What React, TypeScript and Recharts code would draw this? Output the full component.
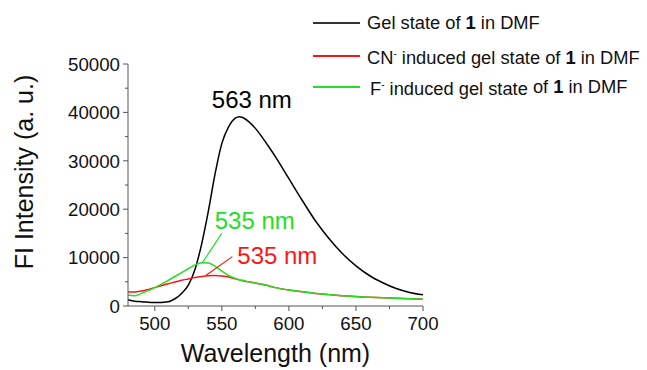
import { LineChart, Line, XAxis, YAxis, ReferenceDot, ReferenceLine } from 'recharts'

// emission spectra, wavelength in nm
const wavelengths = [480, 485, 490, 500, 510, 515, 520, 525, 530, 535, 540, 545, 550, 555, 560, 563, 565, 570, 575, 580, 585, 590, 600, 610, 620, 630, 640, 650, 660, 670, 680, 690, 700]
const gelState = [1300, 1000, 900, 700, 900, 1500, 2600, 4300, 7600, 12900, 19700, 27400, 33600, 37000, 38800, 39100, 39000, 38100, 36700, 34900, 32900, 30800, 26300, 21800, 17500, 13900, 10800, 8300, 6300, 4800, 3600, 2800, 2300]
const cnGel = [2900, 2900, 3100, 3800, 4600, 4950, 5300, 5600, 5900, 6100, 6250, 6300, 6200, 6000, 5600, 5400, 5250, 5000, 4750, 4500, 4150, 3800, 3300, 2950, 2600, 2350, 2100, 1950, 1800, 1700, 1600, 1500, 1400]
const fGel = [2260, 2100, 2600, 3800, 5300, 6100, 6900, 7700, 8500, 8950, 8900, 8200, 7200, 6300, 5700, 5400, 5300, 5000, 4750, 4500, 4150, 3800, 3300, 2950, 2600, 2350, 2100, 1950, 1800, 1700, 1600, 1500, 1400]

const yTicks = [0, 5000, 10000, 15000, 20000, 25000, 30000, 35000, 40000, 45000, 50000]
const xTicks = [500, 525, 550, 575, 600, 625, 650, 675, 700]

const BLACK = '#000000'
const RED = '#ff1414'
const GREEN = '#22e022'
const AXIS = '#555555'
const FONT = '"Liberation Sans", Arial, sans-serif'

const data = wavelengths.map((w, i) => ({ wavelength: w, gel: gelState[i], cn: cnGel[i], f: fGel[i] }))

const YTick = (props: any) => {
    const { x, y, payload } = props
    const major = payload.value % 10000 === 0
    const axisX = x + 8
    return (
        <g>
            <line x1={axisX - (major ? 5 : 3)} x2={axisX} y1={y} y2={y} stroke={AXIS} />
            {major && (
                <text x={x} y={y} dy="0.36em" textAnchor="end" fontSize={18.7} fill="#111" fontFamily={FONT}>
                    {payload.value}
                </text>
            )}
        </g>
    )
}

const XTick = (props: any) => {
    const { x, y, payload } = props
    const major = payload.value % 50 === 0
    const axisY = y - 11
    return (
        <g>
            <line x1={x} x2={x} y1={axisY} y2={axisY + (major ? 5 : 3)} stroke={AXIS} />
            {major && (
                <text x={x} y={y} dy="0.72em" textAnchor="middle" fontSize={18.7} fill="#111" fontFamily={FONT}>
                    {payload.value}
                </text>
            )}
        </g>
    )
}

const PeakLabel = (props: any) => {
    const { viewBox, text, color, dx, dy } = props
    if (!viewBox) return null
    return (
        <text x={viewBox.x + dx} y={viewBox.y + dy} fontSize={24} fill={color} fontFamily={FONT}>
            {text}
        </text>
    )
}

const LegendRow = ({ top, color, indent = 0, children }: any) => (
    <div style={{ position: 'absolute', left: 313, top: top - 12, height: 24, display: 'flex', alignItems: 'center', whiteSpace: 'nowrap' }}>
        <div style={{ width: 47, height: 1.2, background: color, marginRight: 7 + indent }} />
        <span style={{ fontSize: 18.3, lineHeight: '24px', color: '#111', fontFamily: FONT }}>{children}</span>
    </div>
)

export default function App() {
    return (
        <div style={{ position: 'absolute', left: 0, top: 0, width: 647, height: 370, background: '#fff', fontFamily: FONT }}>
            <LineChart width={647} height={370} data={data} margin={{ top: 64, right: 224, left: 68, bottom: 24 }}>
                <XAxis
                    dataKey="wavelength"
                    type="number"
                    domain={[480, 700]}
                    ticks={xTicks}
                    height={40}
                    tickSize={5}
                    tickMargin={6}
                    tickLine={false}
                    tick={<XTick />}
                    axisLine={{ stroke: AXIS }}
                    label={(p: any) => (
                        <text x={p.viewBox.x + p.viewBox.width / 2} y={p.viewBox.y + 56} textAnchor="middle" fontSize={25} fill="#111" fontFamily={FONT}>
                            Wavelength (nm)
                        </text>
                    )}
                />
                <YAxis
                    type="number"
                    domain={[0, 50000]}
                    ticks={yTicks}
                    width={60}
                    tickSize={5}
                    tickMargin={3}
                    tickLine={false}
                    tick={<YTick />}
                    axisLine={{ stroke: AXIS }}
                    label={() => (
                        <text x={0} y={0} transform="translate(33,172) rotate(-90)" textAnchor="middle" fontSize={25} fill="#111" fontFamily={FONT}>
                            FI Intensity (a. u.)
                        </text>
                    )}
                />
                <Line type="monotone" dataKey="gel" stroke={BLACK} strokeWidth={1.5} dot={false} isAnimationActive={false} />
                <Line type="monotone" dataKey="cn" stroke={RED} strokeWidth={1.5} dot={false} isAnimationActive={false} />
                <Line type="monotone" dataKey="f" stroke={GREEN} strokeWidth={1.5} dot={false} isAnimationActive={false} />

                {/* leader lines from the 535 nm maxima to their labels */}
                <ReferenceLine segment={[{ x: 535.4, y: 8900 }, { x: 549.9, y: 15000 }]} stroke={GREEN} strokeWidth={1.2} />
                <ReferenceLine segment={[{ x: 538, y: 6300 }, { x: 557.8, y: 10200 }]} stroke={RED} strokeWidth={1.2} />

                <ReferenceDot x={563} y={39100} r={0} stroke="none" label={<PeakLabel text="563 nm" color={BLACK} dx={-27.5} dy={-8.5} />} />
                <ReferenceDot x={549.9} y={15000} r={0} stroke="none" label={<PeakLabel text="535 nm" color={GREEN} dx={-7} dy={-4} />} />
                <ReferenceDot x={557.8} y={10200} r={0} stroke="none" label={<PeakLabel text="535 nm" color={RED} dx={5} dy={7} />} />
            </LineChart>

            <LegendRow top={23} color="#333">
                Gel state of <b>1</b> in DMF
            </LegendRow>
            <LegendRow top={56} color={RED}>
                CN<sup style={{ fontSize: 10 }}>-</sup> induced gel state of <b>1</b> in DMF
            </LegendRow>
            <LegendRow top={87} color={GREEN} indent={3}>
                F<sup style={{ fontSize: 10 }}>-</sup> induced gel state{' '}
                <span style={{ position: 'relative', top: -2 }}>
                    of <b>1</b> in DMF
                </span>
            </LegendRow>
        </div>
    )
}
